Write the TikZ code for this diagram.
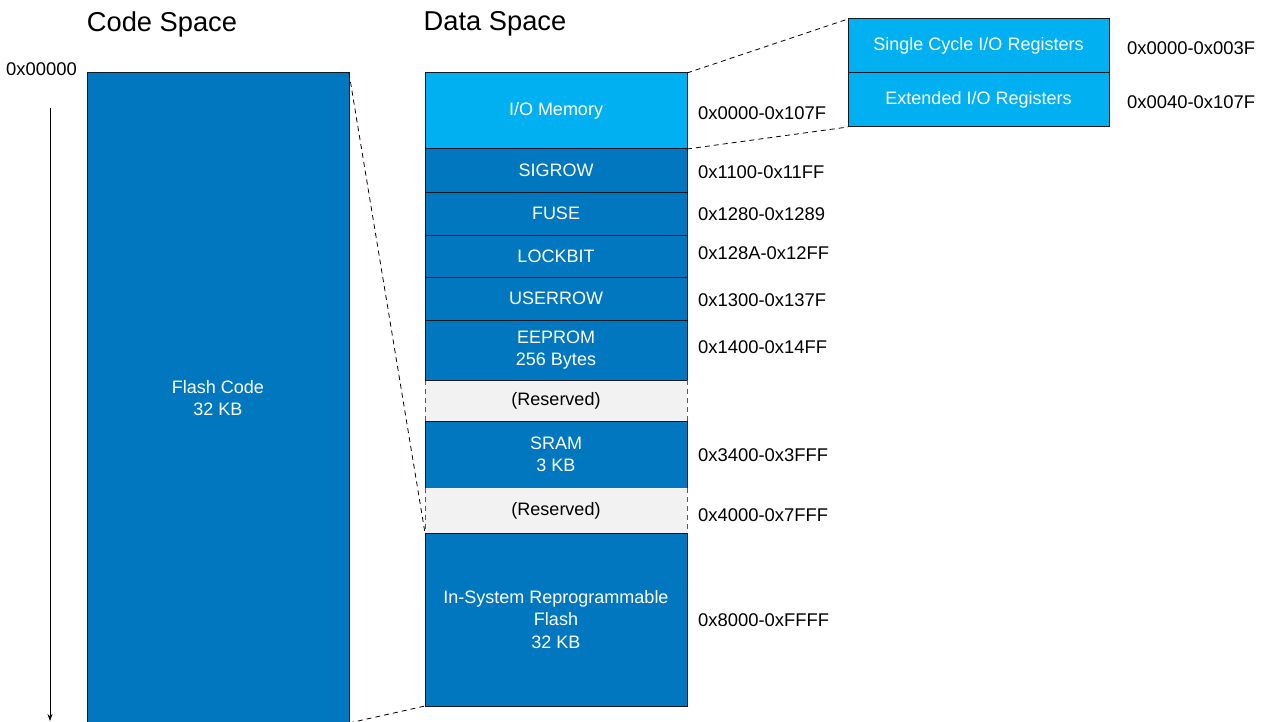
\documentclass[tikz,border=0pt]{standalone}
\usepackage{fontspec}
\setmainfont{Liberation Sans}
\usetikzlibrary{arrows.meta}
\definecolor{dkblue}{RGB}{0,119,190}
\definecolor{ltblue}{RGB}{0,176,240}
\definecolor{resgray}{RGB}{242,242,242}
\definecolor{edge}{RGB}{20,25,35}
\tikzset{
  txt/.style={font=\fontsize{18}{22.5}\selectfont, inner sep=0pt},
  title/.style={font=\fontsize{27.3}{30}\selectfont, inner sep=0pt},
  blk/.style={txt, draw=edge, line width=1pt, fill=dkblue, text=white, align=center,
              anchor=north west, minimum width=262pt, outer sep=0pt},
  lblk/.style={blk, fill=ltblue},
  resblk/.style={txt, fill=resgray, text=black, align=center, anchor=north west,
                 minimum width=262pt, outer sep=0pt},
  addr/.style={txt, font=\fontsize{18.4}{22}\selectfont, anchor=west},
  conn/.style={dashed, dash pattern=on 5pt off 4pt, line width=0.8pt, black}
}
\begin{document}
\begin{tikzpicture}[x=1pt,y=-1pt]
\useasboundingbox (0,0) rectangle (1265,722);
% titles
\node[title] (tcode) at (162,24) {Code Space};
\node[title] (tdata) at (495,24) {Data Space};
% code space
\node[txt, font=\fontsize{18.4}{22}\selectfont] (zero) at (41.5,69) {0x00000};
\node[blk, minimum height=650pt] (code) at (87,73) {Flash Code\\32 KB};
\coordinate (astart) at (50,108);
\coordinate (aend) at (50,721);
\draw[-{Stealth[length=7pt,width=5pt]}, line width=0.7pt] (astart) -- (aend);
% data space
\node[lblk, minimum height=76pt] (io) at (425,73) {I/O Memory};
\node[blk, minimum height=43pt] (sig) at (425,149) {SIGROW};
\node[blk, minimum height=43pt] (fuse) at (425,192) {FUSE};
\node[blk, minimum height=42pt] (lock) at (425,235) {LOCKBIT};
\node[blk, minimum height=43pt] (user) at (425,277) {USERROW};
\node[blk, minimum height=60pt] (eep) at (425,320) {EEPROM\\256 Bytes};
\node[resblk, minimum height=41pt] (res1) at (425,380) {(Reserved)};
\node[blk, minimum height=67pt] (sram) at (425,421) {SRAM\\3 KB};
\node[resblk, minimum height=45pt] (res2) at (425,488) {(Reserved)};
\node[blk, minimum height=173pt] (flash) at (425,533) {In-System Reprogrammable\\Flash\\32 KB};
\draw[conn, draw=gray!70!black] (res1.north west) -- (res1.south west);
\draw[conn, draw=gray!70!black] (res1.north east) -- (res1.south east);
\draw[conn, draw=gray!70!black] (res2.north west) -- (res2.south west);
\draw[conn, draw=gray!70!black] (res2.north east) -- (res2.south east);
\draw[edge, line width=1pt] (res1.north west) -- (res1.north east);
\draw[edge, line width=1pt] (res2.south west) -- (res2.south east);
% addresses
\node[addr] (a1) at (698,113) {0x0000-0x107F};
\node[addr] (a2) at (698,172) {0x1100-0x11FF};
\node[addr] (a3) at (698,214) {0x1280-0x1289};
\node[addr] (a4) at (698,253) {0x128A-0x12FF};
\node[addr] (a5) at (698,300) {0x1300-0x137F};
\node[addr] (a6) at (698,347) {0x1400-0x14FF};
\node[addr] (a7) at (698,455) {0x3400-0x3FFF};
\node[addr] (a8) at (698,515) {0x4000-0x7FFF};
\node[addr] (a9) at (698,620) {0x8000-0xFFFF};
% inset
\node[lblk, minimum width=261pt, minimum height=54pt] (sc) at (848,19) {Single Cycle I/O Registers};
\node[lblk, minimum width=261pt, minimum height=54pt] (ext) at (848,73) {Extended I/O Registers};
\node[addr] (b1) at (1127,48) {0x0000-0x003F};
\node[addr] (b2) at (1127,102) {0x0040-0x107F};
% connectors
\draw[conn] (code.north east) -- (flash.north west);
\draw[conn] (code.south east) -- (flash.south west);
\draw[conn] (io.north east) -- (sc.north west);
\draw[conn] (io.south east) -- (ext.south west);
\end{tikzpicture}
\end{document}
